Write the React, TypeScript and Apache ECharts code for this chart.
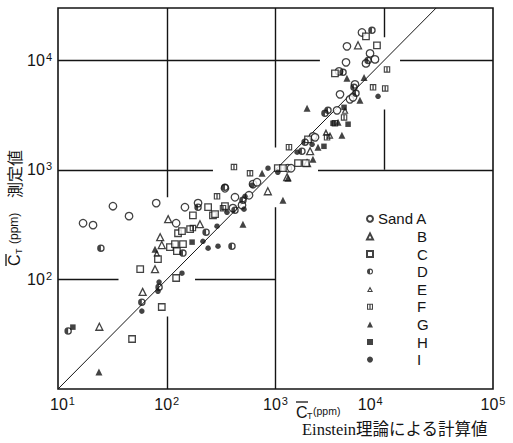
import { useEffect, useRef } from 'react';
import * as echarts from 'echarts';

// Measured concentration vs. concentration computed from Einstein's theory (ppm)
const sandA = [[17, 326], [21, 313], [32, 466], [45, 378], [80, 497], [122, 326], [147, 456], [194, 497], [343, 679], [406, 447], [492, 476], [424, 562], [571, 586], [621, 740], [676, 771], [1300, 1035], [1390, 1035], [2210, 2020], [2310, 1980], [3680, 3490], [3920, 4890], [4840, 4400], [5160, 4590], [5380, 6030], [3840, 7920], [4450, 9570], [4540, 13400], [6240, 17950], [6790, 9370], [7400, 11560], [8220, 10190]];
const sandB = [[24, 37], [60, 77], [78, 124], [87, 243], [90, 206], [103, 355], [202, 319], [850, 638], [1280, 857], [1950, 1150], [2080, 1480], [5740, 13700]];
const sandC = [[48, 28.6], [57, 124], [83, 153], [90, 56], [107, 197], [119, 210], [122, 103], [124, 181], [127, 264], [138, 276], [141, 210], [164, 288], [174, 385], [240, 456], [266, 385], [278, 394], [343, 466], [1050, 1035], [1170, 1035], [1610, 1150], [1900, 1150], [1990, 1900], [3520, 7600], [6790, 16500], [8570, 13700]];
const sandD = [[12.4, 33.8], [24.8, 193], [59, 62], [85, 85], [141, 174], [194, 456], [230, 270], [343, 694], [398, 201], [424, 428], [502, 528], [1750, 1480], [1870, 1790], [2850, 3280], [3040, 3490], [4180, 7760], [5270, 5660], [5500, 4990], [7100, 9980], [7710, 18750]];
const sandE = [[81, 174], [2910, 2200], [3170, 2070], [4360, 3490]];
const sandF = [[174, 294], [290, 574], [329, 447], [415, 1060], [583, 931], [1330, 1610], [2980, 1980], [3520, 2660], [4270, 3010], [7890, 5660], [10200, 5540], [10600, 8260]];
const sandG = [[23.8, 14.3], [78, 189], [502, 319], [752, 931], [1170, 528], [1300, 838], [1950, 3650], [2210, 1250], [2460, 1610], [3760, 2720], [4080, 2070], [4540, 6840], [5980, 4310], [6520, 6980]];
const sandH = [[13.7, 36.7], [171, 219], [2790, 1640], [3380, 2660], [4270, 3720], [4650, 2610]];
const sandI = [[59, 51.4], [83, 78], [85, 94.5], [138, 114], [215, 223], [240, 193], [290, 306], [296, 201], [358, 410], [513, 438], [524, 574], [608, 724], [853, 1035], [1050, 951], [1580, 1450], [2170, 1710], [8770, 4690]];

const sandNames = ['A', 'B', 'C', 'D', 'E', 'F', 'G', 'H', 'I'];

// Broken cross-hair grid lines at the decades
const gridSegments = [
  [[10, 1e4], [2560, 1e4]],
  [[13970, 1e4], [1e5, 1e4]],
  [[10, 1e3], [266, 1e3]],
  [[2460, 1e3], [1e5, 1e3]],
  [[10, 100], [36, 100]],
  [[182, 100], [1e3, 100]],
  [[100, 30000], [100, 563]],
  [[100, 46], [100, 10]],
  [[1e3, 30000], [1e3, 1600]],
  [[1e3, 456], [1e3, 10]],
  [[1e4, 30000], [1e4, 16200]],
  [[1e4, 3560], [1e4, 1e3]],
];

// Line of perfect agreement
const equalityLine = [[10, 10], [30000, 30000]];

const INK = '#141414';
const SANS = '"Liberation Sans", Arial, sans-serif';

const halfRing = 'path://M10,0 A10,10 0 1,1 -10,0 A10,10 0 1,1 10,0 Z M6.5,0 A6.5,6.5 0 1,0 -6.5,0 A6.5,6.5 0 1,0 6.5,0 Z M0,-6.5 A6.5,6.5 0 0,0 0,6.5 Z';
const triRing = 'path://M0,-10 L10,8 L-10,8 Z M0,-2 L-4.5,5 L4.5,5 Z';
const barSquare = 'path://M-10,-10 L10,-10 L10,10 L-10,10 Z M-6.5,-6.5 L-6.5,6.5 L6.5,6.5 L6.5,-6.5 Z M-2,-6.5 L2,-6.5 L2,6.5 L-2,6.5 Z';

const open = { color: '#fff', borderColor: INK, borderWidth: 1.3 };
const solid = { color: INK };

const markerStyles: Record<string, any> = {
  A: { symbol: 'circle', symbolSize: 7.5, itemStyle: open },
  B: { symbol: 'triangle', symbolSize: 7, itemStyle: open },
  C: { symbol: 'rect', symbolSize: 6.5, itemStyle: open },
  D: { symbol: halfRing, symbolSize: 7.5, itemStyle: solid },
  E: { symbol: triRing, symbolSize: 7, itemStyle: solid },
  F: { symbol: barSquare, symbolSize: 6.5, itemStyle: solid },
  G: { symbol: 'triangle', symbolSize: 7, itemStyle: solid },
  H: { symbol: 'rect', symbolSize: 5.5, itemStyle: solid },
  I: { symbol: 'circle', symbolSize: 5.5, itemStyle: solid },
};

const sandData: Record<string, number[][]> = {
  A: sandA, B: sandB, C: sandC, D: sandD, E: sandE, F: sandF, G: sandG, H: sandH, I: sandI,
};

const powerLabel = (axis: 'x' | 'y') => (v: number) => {
  const e = Math.round(Math.log10(v));
  if (axis === 'y' && e < 2) return '';
  if (axis === 'x' && e === 1) return `{b1|10}{s|${e}}`;
  if (axis === 'x' && e === 4) return `{b|10}{s4|${e}}`;
  return `{b|10}{s|${e}}`;
};

const powerRich = {
  b: { fontSize: 16, lineHeight: 18, fontFamily: SANS, color: INK },
  b1: { fontSize: 16, lineHeight: 18, fontFamily: SANS, color: INK, padding: [0, 0, 0, 9] },
  s: { fontSize: 11, lineHeight: 6, verticalAlign: 'top', fontFamily: SANS, color: INK, padding: [0, 0, 0, 1] },
  s4: { fontSize: 11, lineHeight: 6, verticalAlign: 'top', fontFamily: SANS, color: INK, padding: [0, 28, 0, 1] },
};

// Legend rows: "Sand A" on the first row, the other letters lined up under "A"
const legendRich = {
  a: { fontSize: 15, lineHeight: 17.6, fontFamily: SANS, color: INK },
  l: { fontSize: 15, lineHeight: 17.6, fontFamily: SANS, color: INK, padding: [0, 0, 0, 39] },
};

export default function App() {
  const ref = useRef<HTMLDivElement>(null);

  useEffect(() => {
    const chart = echarts.init(ref.current!, null, { renderer: 'svg' });

    const scatter = sandNames.map((n) => ({
      name: n,
      type: 'scatter',
      data: sandData[n],
      ...markerStyles[n],
      z: 5,
    }));

    chart.setOption({
      animation: false,
      backgroundColor: '#fff',
      grid: {
        left: 58, right: 20, top: 8, bottom: 54,
        show: true, borderColor: INK, borderWidth: 1.6, backgroundColor: 'transparent',
      },
      xAxis: {
        type: 'log', logBase: 10, min: 10, max: 1e5,
        axisLine: { show: false }, axisTick: { show: false }, splitLine: { show: false },
        axisLabel: { formatter: powerLabel('x'), rich: powerRich, margin: 6, showMinLabel: true, showMaxLabel: true },
      },
      yAxis: {
        type: 'log', logBase: 10, min: 10, max: 30000,
        axisLine: { show: false }, axisTick: { show: false }, splitLine: { show: false },
        axisLabel: { formatter: powerLabel('y'), rich: powerRich, margin: 6, showMinLabel: false, showMaxLabel: false },
      },
      legend: {
        data: sandNames,
        orient: 'vertical',
        left: 361, top: 205,
        itemWidth: 6, itemHeight: 6, itemGap: 0,
        selectedMode: false,
        formatter: (n: string) => (n === 'A' ? '{a|Sand A}' : `{l|${n}}`),
        textStyle: { color: INK, fontSize: 15, lineHeight: 17.6, fontFamily: SANS, rich: legendRich },
      },
      series: [
        {
          type: 'lines',
          coordinateSystem: 'cartesian2d',
          silent: true,
          data: gridSegments.map((c) => ({ coords: c })),
          lineStyle: { color: INK, width: 1.4, opacity: 1, curveness: 0 },
          z: 1,
        },
        {
          type: 'line',
          data: equalityLine,
          symbol: 'none',
          silent: true,
          lineStyle: { color: INK, width: 1 },
          z: 2,
        },
        ...scatter,
      ],
      graphic: [
        {
          type: 'group', x: 14, y: 266, rotation: Math.PI / 2,
          children: [
            { type: 'text', x: 0, y: 0, style: { text: 'C', fontSize: 16, fontFamily: SANS, fill: INK, verticalAlign: 'middle' } },
            { type: 'line', shape: { x1: 0, y1: -8, x2: 12, y2: -8 }, style: { stroke: INK, lineWidth: 1.3 } },
            { type: 'text', x: 12, y: 5, style: { text: 'T', fontSize: 9, fontFamily: SANS, fill: INK, verticalAlign: 'middle' } },
            { type: 'text', x: 22, y: 0, style: { text: '(ppm)', fontSize: 12, fontFamily: SANS, fill: INK, verticalAlign: 'middle' } },
            { type: 'text', x: 68, y: 0, style: { text: '測定値', fontSize: 16, fontFamily: '"Noto Sans CJK JP", sans-serif', fill: INK, verticalAlign: 'middle' } },
          ],
        },
        {
          type: 'group', x: 296, y: 412,
          children: [
            { type: 'text', x: 0, y: 0, style: { text: 'C', fontSize: 16, fontFamily: SANS, fill: INK, verticalAlign: 'middle' } },
            { type: 'line', shape: { x1: 0, y1: -10, x2: 12, y2: -10 }, style: { stroke: INK, lineWidth: 1.3 } },
            { type: 'text', x: 11, y: 4, style: { text: 'T', fontSize: 9, fontFamily: SANS, fill: INK, verticalAlign: 'middle' } },
            { type: 'text', x: 17, y: -1, style: { text: '(ppm)', fontSize: 10.5, fontFamily: SANS, fill: INK, verticalAlign: 'middle' } },
          ],
        },
        {
          type: 'text', x: 302, y: 429,
          style: { text: 'Einstein理論による計算値', fontSize: 16.5, fontFamily: '"Liberation Serif", "Noto Sans CJK JP", serif', fill: INK, verticalAlign: 'middle' },
        },
      ],
    });

    return () => chart.dispose();
  }, []);

  return (
    <div
      ref={ref}
      style={{ position: 'fixed', left: 0, top: 0, width: 513, height: 443, background: '#fff' }}
    />
  );
}
